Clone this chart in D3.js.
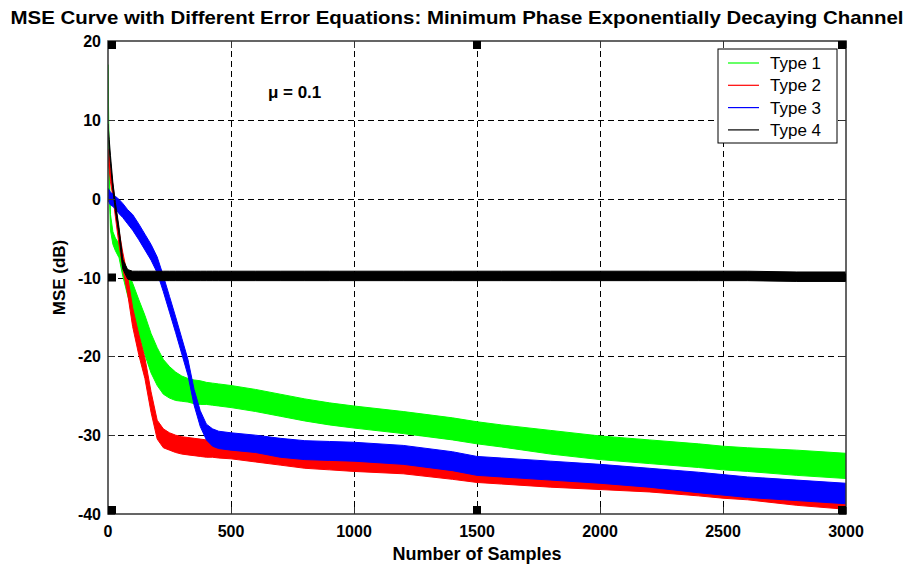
<!DOCTYPE html>
<html>
<head>
<meta charset="utf-8">
<script src="https://cdn.jsdelivr.net/npm/d3@7"></script>
<style>
  body { margin: 0; background: #fff; }
  text { font-family: "Liberation Sans", Arial, sans-serif; }
</style>
</head>
<body>
<div id="container"></div>
<script>
const samples = [0, 5, 10, 20, 30, 45, 60, 80, 100, 125, 150, 175, 200, 225, 250, 275, 300, 325, 350, 375,
    400, 425, 450, 500, 600, 700, 800, 900, 1000, 1200, 1400, 1500, 1600, 1800, 2000, 2200, 2400, 2500, 2600, 2800, 3000];

// mean MSE (dB) and half width of the noise band (dB) for each error equation
const type1Mean = [16, 3, -3, -5, -5.8, -6.6, -8.6, -10.8, -12.5, -15, -17.3, -19.6, -21.3, -22.6, -23.3, -23.8, -24.1, -24.3, -24.5, -24.6,
    -24.7, -24.8, -24.9, -25.1, -25.6, -26.2, -26.8, -27.3, -27.7, -28.4, -29.2, -29.7, -30.1, -30.9, -31.6, -32.1, -32.6, -32.9, -33.1, -33.5, -33.9];
const type1Spread = [1, 1.5, 1, 0.8, 0.8, 0.9, 1.2, 1.5, 1.8, 2.2, 2.5, 2.5, 2.4, 2.2, 2, 1.8, 1.6, 1.5, 1.5, 1.5,
    1.4, 1.4, 1.4, 1.4, 1.4, 1.4, 1.4, 1.4, 1.4, 1.4, 1.4, 1.4, 1.4, 1.5, 1.5, 1.5, 1.5, 1.5, 1.5, 1.6, 1.6];

const type2Mean = [5.5, 4.5, 3, 1, -1.5, -5, -7.8, -11, -15, -18.5, -21.5, -25.8, -29.3, -30.4, -30.8, -31.1, -31.3, -31.4, -31.5, -31.6,
    -31.7, -31.7, -31.8, -31.9, -32.2, -32.6, -33, -33.2, -33.4, -33.7, -34.3, -34.7, -34.9, -35.3, -35.6, -35.9, -36.4, -36.7, -36.9, -37.5, -38];
const type2Spread = [0.8, 0.8, 0.8, 0.8, 0.8, 0.9, 1, 1.1, 1.2, 1.3, 1.3, 1.3, 1.2, 1.2, 1.1, 1.1, 1.1, 1.1, 1.1, 1.1,
    1.1, 1.1, 1.1, 1.1, 1.2, 1.2, 1.2, 1.2, 1.2, 1.2, 1.3, 1.3, 1.3, 1.3, 1.3, 1.3, 1.3, 1.3, 1.3, 1.4, 1.4];

const type3Mean = [0.5, 0.3, 0, -0.2, -0.5, -1, -1.5, -2.3, -3, -4.2, -5.5, -6.8, -8.4, -10.8, -13.4, -16, -18.7, -21.4, -25.2, -27.9,
    -29.6, -30.3, -30.6, -30.8, -31.1, -31.6, -31.9, -32, -32.1, -32.5, -33.3, -33.9, -34.1, -34.5, -34.9, -35.4, -36, -36.3, -36.6, -37, -37.4];
const type3Spread = [0.8, 0.8, 0.8, 0.8, 0.8, 0.9, 0.9, 0.9, 1, 1, 1, 1, 1, 1, 1, 1, 1, 1, 1, 1,
    1, 1.1, 1.1, 1.1, 1.1, 1.2, 1.2, 1.2, 1.2, 1.2, 1.2, 1.2, 1.2, 1.2, 1.2, 1.2, 1.3, 1.3, 1.3, 1.3, 1.3];

const type4Mean = [9, 7, 5, 1.5, -1, -4.2, -8.3, -9.6, -9.8, -9.8, -9.8, -9.8, -9.8, -9.8, -9.8, -9.8, -9.8, -9.8, -9.8, -9.8,
    -9.8, -9.8, -9.8, -9.8, -9.8, -9.8, -9.8, -9.8, -9.8, -9.8, -9.8, -9.8, -9.8, -9.8, -9.8, -9.8, -9.8, -9.8, -9.8, -9.9, -9.9];
const type4Spread = [0.5, 0.5, 0.5, 0.5, 0.5, 0.5, 0.6, 0.6, 0.6, 0.6, 0.6, 0.6, 0.6, 0.6, 0.6, 0.6, 0.6, 0.6, 0.6, 0.6,
    0.6, 0.6, 0.6, 0.6, 0.6, 0.6, 0.6, 0.6, 0.6, 0.6, 0.6, 0.6, 0.6, 0.6, 0.6, 0.6, 0.6, 0.6, 0.6, 0.6, 0.6];

const seriesNames = ['Type 1', 'Type 2', 'Type 3', 'Type 4'];
const seriesColors = ['#00ff00', '#ff0000', '#0000ff', '#000000'];

const xTicks = [0, 500, 1000, 1500, 2000, 2500, 3000];
const yTicks = [-40, -30, -20, -10, 0, 10, 20];

// the little black squares the original figure has on its frame
const markerPoints = [[0, 20], [1500, 20], [3000, 20], [0, -10], [3000, -10], [0, -40], [1500, -40], [3000, -40]];

const titleText = 'MSE Curve with Different Error Equations: Minimum Phase Exponentially Decaying Channel';
const xLabel = 'Number of Samples';
const yLabel = 'MSE (dB)';
const stepText = '\u03bc = 0.1';

const width = 912, height = 567;
const plot = { left: 108, right: 846, top: 41, bottom: 514 };

let viz = d3.select('#container')
    .append('svg')
    .attr('width', width)
    .attr('height', height)
    .style('background', '#fff');

const x = d3.scaleLinear().domain([0, 3000]).range([plot.left, plot.right]);
const y = d3.scaleLinear().domain([-40, 20]).range([plot.bottom, plot.top]);

viz.append('defs').append('clipPath').attr('id', 'plotClip')
    .append('rect')
    .attr('x', plot.left).attr('y', plot.top)
    .attr('width', plot.right - plot.left).attr('height', plot.bottom - plot.top);

// grid
let grid = viz.append('g').attr('stroke', '#000').attr('stroke-width', 1).attr('stroke-dasharray', '6,4');
grid.selectAll('.vgrid').data(xTicks.slice(1, -1)).enter().append('line')
    .attr('x1', d => Math.round(x(d)) + 0.5).attr('x2', d => Math.round(x(d)) + 0.5)
    .attr('y1', plot.top).attr('y2', plot.bottom);
grid.selectAll('.hgrid').data(yTicks.slice(1, -1)).enter().append('line')
    .attr('y1', d => Math.round(y(d)) + 0.5).attr('y2', d => Math.round(y(d)) + 0.5)
    .attr('x1', plot.left).attr('x2', plot.right);

// curves, drawn as noise bands
const series = [
    [type1Mean, type1Spread],
    [type2Mean, type2Spread],
    [type3Mean, type3Spread],
    [type4Mean, type4Spread]
].map((s, i) => ({
    name: seriesNames[i],
    color: seriesColors[i],
    values: samples.map((n, j) => ({ n: n, m: s[0][j], sp: s[1][j] }))
}));

const band = d3.area()
    .x(d => x(d.n))
    .y0(d => y(d.m - d.sp))
    .y1(d => y(d.m + d.sp));

let curves = viz.append('g').attr('clip-path', 'url(#plotClip)');
curves.selectAll('.band').data(series).enter().append('path')
    .attr('class', 'band')
    .attr('d', d => band(d.values))
    .attr('fill', d => d.color)
    .attr('stroke', d => d.color)
    .attr('stroke-width', 1)
    .attr('stroke-linejoin', 'round');

// inward ticks
let ticks = viz.append('g').attr('stroke', '#333').attr('stroke-width', 1);
xTicks.forEach(t => {
    let px = Math.round(x(t)) + 0.5;
    ticks.append('line').attr('x1', px).attr('x2', px).attr('y1', plot.bottom).attr('y2', plot.bottom - 7);
    ticks.append('line').attr('x1', px).attr('x2', px).attr('y1', plot.top).attr('y2', plot.top + 7);
});
yTicks.forEach(t => {
    let py = Math.round(y(t)) + 0.5;
    ticks.append('line').attr('y1', py).attr('y2', py).attr('x1', plot.left).attr('x2', plot.left + 7);
    ticks.append('line').attr('y1', py).attr('y2', py).attr('x1', plot.right).attr('x2', plot.right - 7);
});

// frame
viz.append('rect')
    .attr('x', plot.left).attr('y', plot.top)
    .attr('width', plot.right - plot.left).attr('height', plot.bottom - plot.top)
    .attr('fill', 'none').attr('stroke', '#333').attr('stroke-width', 1.5);

// square markers, kept inside the frame
const ms = 8;
viz.selectAll('.marker').data(markerPoints).enter().append('rect')
    .attr('x', d => Math.max(plot.left, Math.min(plot.right - ms, x(d[0]) - ms / 2)))
    .attr('y', d => Math.max(plot.top, Math.min(plot.bottom - ms, y(d[1]) - ms / 2)))
    .attr('width', ms).attr('height', ms)
    .attr('fill', '#000');

// tick labels
viz.selectAll('.xlab').data(xTicks).enter().append('text')
    .attr('x', d => x(d)).attr('y', 537)
    .attr('text-anchor', 'middle')
    .attr('font-size', 16).attr('font-weight', 'bold')
    .text(d => d);
viz.selectAll('.ylab').data(yTicks).enter().append('text')
    .attr('x', 101).attr('y', d => y(d) + 6)
    .attr('text-anchor', 'end')
    .attr('font-size', 16).attr('font-weight', 'bold')
    .text(d => d);

// axis titles and title
viz.append('text')
    .attr('x', (plot.left + plot.right) / 2).attr('y', 560)
    .attr('text-anchor', 'middle')
    .attr('font-size', 18).attr('font-weight', 'bold')
    .text(xLabel);
viz.append('text')
    .attr('transform', 'translate(65,' + (y(-10)) + ') rotate(-90)')
    .attr('text-anchor', 'middle')
    .attr('font-size', 17).attr('font-weight', 'bold')
    .text(yLabel);
viz.append('text')
    .attr('x', 457).attr('y', 24)
    .attr('text-anchor', 'middle')
    .attr('font-size', 19).attr('font-weight', 'bold')
    .attr('textLength', 893).attr('lengthAdjust', 'spacingAndGlyphs')
    .text(titleText);

viz.append('text')
    .attr('x', x(650)).attr('y', 98)
    .attr('font-size', 17).attr('font-weight', 'bold')
    .text(stepText);

// legend
let legend = viz.append('g').attr('transform', 'translate(718,49)');
legend.append('rect')
    .attr('width', 119).attr('height', 94)
    .attr('fill', '#fff').attr('stroke', '#000').attr('stroke-width', 1);
let rows = legend.selectAll('.row').data(series).enter().append('g')
    .attr('transform', (d, i) => `translate(0,${14 + i * 22.3})`);
rows.append('line')
    .attr('x1', 10).attr('x2', 41)
    .attr('stroke', d => d.color).attr('stroke-width', 1.2);
rows.append('text')
    .attr('x', 52).attr('y', 6)
    .attr('font-size', 17)
    .text(d => d.name);
</script>
</body>
</html>
